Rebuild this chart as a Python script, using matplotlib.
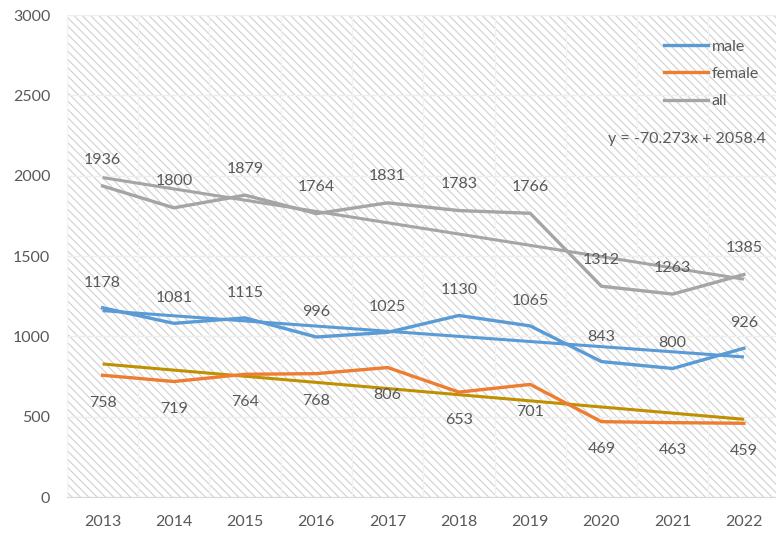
import matplotlib
matplotlib.use('Agg')
import matplotlib.pyplot as plt
from matplotlib.patches import Rectangle
import numpy as np

plt.rcParams['font.family'] = ['Lato', 'DejaVu Sans']
plt.rcParams['hatch.linewidth'] = 0.8

years = ['2013', '2014', '2015', '2016', '2017', '2018', '2019', '2020', '2021', '2022']
male = [1178, 1081, 1115, 996, 1025, 1130, 1065, 843, 800, 926]
female = [758, 719, 764, 768, 806, 653, 701, 469, 463, 459]
all_ = [1936, 1800, 1879, 1764, 1831, 1783, 1766, 1312, 1263, 1385]

c_male = '#5B9BD5'
c_female = '#ED7D31'
c_all = '#A5A5A5'
c_ftrend = '#BF9000'
txt = '#595959'

fig = plt.figure(figsize=(7.76, 5.33), dpi=100)
ax = fig.add_axes([0.0863, 0.0675, 0.9137, 0.9043])

# hatched plot area
ax.patch.set_visible(False)
ax.add_patch(Rectangle((0, 0), 1, 1, transform=ax.transAxes, facecolor='white',
                       edgecolor='#d0d0d0', hatch='\\\\\\\\', lw=0, zorder=0.1))

x = np.arange(len(years))
xe = x + 1  # excel style x for trendlines

# trendlines
for vals, col in [(all_, c_all), (male, c_male), (female, c_ftrend)]:
    k, b = np.polyfit(xe, vals, 1)
    ax.plot(x, k * xe + b, color=col, lw=2.2, zorder=2, solid_capstyle='butt')

ax.plot(x, male, color=c_male, lw=2.4, label='male', zorder=3)
ax.plot(x, female, color=c_female, lw=2.4, label='female', zorder=3)
ax.plot(x, all_, color=c_all, lw=2.4, label='all', zorder=3)

for i in x:
    ax.annotate(str(all_[i]), (i, all_[i]), xytext=(0, 19), textcoords='offset points',
                ha='center', va='center', fontsize=11.5, color=txt, zorder=4)
    ax.annotate(str(male[i]), (i, male[i]), xytext=(0, 18), textcoords='offset points',
                ha='center', va='center', fontsize=11.5, color=txt, zorder=4)
    ax.annotate(str(female[i]), (i, female[i]), xytext=(0, -20), textcoords='offset points',
                ha='center', va='center', fontsize=11.5, color=txt, zorder=4)

k, b = np.polyfit(xe, all_, 1)
fig.text(0.784, 0.739, 'y = %.3fx + %.1f' % (k, b),
         ha='left', va='center', fontsize=11.5, color=txt)

ax.set_xlim(-0.5, 9.45)
ax.set_ylim(0, 3000)
ax.set_yticks(range(0, 3001, 500))
ax.set_xticks(x)
ax.set_xticklabels(years)
ax.set_xticks(np.arange(-0.5, 9.5, 0.5), minor=True)
ax.tick_params(axis='both', which='both', length=0, labelsize=11.5, labelcolor=txt)
ax.tick_params(axis='y', pad=12)
ax.tick_params(axis='x', pad=13)
ax.set_axisbelow(True)
ax.grid(axis='y', color='#eeeeee', lw=1)
ax.grid(axis='x', which='minor', color='#f2f2f2', lw=1)
for s in ['left', 'right', 'top']:
    ax.spines[s].set_visible(False)
ax.spines['bottom'].set_color('#d9d9d9')

leg = ax.legend(loc='upper left', bbox_to_anchor=(0.847, 0.938), bbox_transform=fig.transFigure,
                frameon=False, fontsize=11.5, handlelength=2.8, handletextpad=0.2,
                labelspacing=0.82, borderaxespad=0)
for t in leg.get_texts():
    t.set_color(txt)

fig.savefig('out.png', dpi=100)
